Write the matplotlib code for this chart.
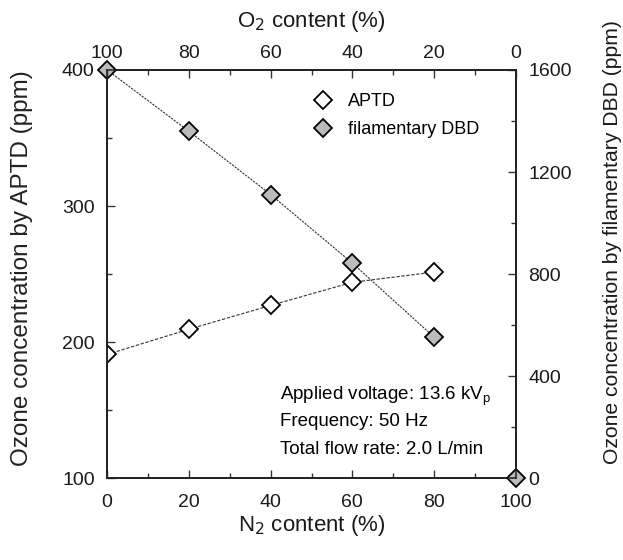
import matplotlib
matplotlib.use("Agg")
import matplotlib.pyplot as plt
from matplotlib.ticker import MultipleLocator

plt.rcParams['font.family'] = ['Liberation Sans', 'DejaVu Sans']

n2_aptd = [0, 20, 40, 60, 80]
aptd_ppm = [191, 209.5, 227, 244, 251.5]
n2_dbd = [0, 20, 40, 60, 80, 100]
dbd_ppm = [1600, 1360, 1112, 843, 553, 0]

fig = plt.figure(figsize=(6.23, 5.60), dpi=100)
ax = fig.add_axes([0.172, 0.146, 0.656, 0.729])
ax2 = ax.twinx()
ax3 = ax.twiny()

ax.set_xlim(0, 100)
ax.set_ylim(100, 400)
ax2.set_ylim(0, 1600)
ax3.set_xlim(0, 100)

fs = 14
ax.plot(n2_aptd, aptd_ppm, linestyle=(0, (3, 1.5)), color='#333333', lw=0.8, zorder=2)
ax.plot(n2_aptd, aptd_ppm, linestyle='none', marker='D', ms=9, mfc='white', mec='black', mew=1.3, zorder=3)
ax2.plot(n2_dbd[:-1], dbd_ppm[:-1], linestyle=(0, (2, 1)), color='#333333', lw=0.8, zorder=2)
ax2.plot(n2_dbd, dbd_ppm, linestyle='none', marker='D', ms=9, mfc='#bbbbbb', mec='black', mew=1.3, zorder=3, clip_on=False)

h1, = ax.plot([], [], linestyle='none', marker='D', ms=9, mfc='white', mec='black', mew=1.3)
h2, = ax.plot([], [], linestyle='none', marker='D', ms=9, mfc='#bbbbbb', mec='black', mew=1.3)
ax.legend([h1, h2], ['APTD', 'filamentary DBD'], loc='upper left', bbox_to_anchor=(0.47, 0.975),
          frameon=False, fontsize=13, handletextpad=0.8, labelspacing=0.62, handlelength=1.2,
          borderaxespad=0.3)

ax.set_xticks([0, 20, 40, 60, 80, 100])
ax.xaxis.set_minor_locator(MultipleLocator(10))
ax.set_yticks([100, 200, 300, 400])
ax.yaxis.set_minor_locator(MultipleLocator(50))
ax2.set_yticks([0, 400, 800, 1200, 1600])
ax2.yaxis.set_minor_locator(MultipleLocator(200))
ax3.set_xticks([0, 20, 40, 60, 80, 100])
ax3.set_xticklabels(['100', '80', '60', '40', '20', '0'])
ax3.xaxis.set_minor_locator(MultipleLocator(10))

for a in (ax, ax2, ax3):
    a.tick_params(which='both', direction='in', labelsize=fs, width=1.0, color='#333333',
                  labelcolor='#1a1a1a')
    a.tick_params(which='major', length=6, pad=9)
    a.tick_params(which='minor', length=3.5)
    for s in a.spines.values():
        s.set_linewidth(1.1)
        s.set_color('#222222')
ax.tick_params(axis='x', which='major', pad=11)
ax3.tick_params(which='major', pad=6)

ax.set_xlabel('N$_2$ content (%)', fontsize=16, color='#1a1a1a')
ax.xaxis.set_label_coords(0.5, -0.086)
ax3.set_xlabel('O$_2$ content (%)', fontsize=16, color='#1a1a1a')
ax3.xaxis.set_label_coords(0.5, 1.105)
ax.set_ylabel('Ozone concentration by APTD (ppm)', fontsize=17.5, color='#222222')
ax.yaxis.set_label_coords(-0.181, 0.515)
ax2.set_ylabel('Ozone concentration by filamentary DBD (ppm)', fontsize=15.2, color='#1a1a1a')
ax2.yaxis.set_label_coords(1.213, 0.578)

tfs = 13.5
ax.text(0.423, 0.200, 'Applied voltage: 13.6 kV$_\\mathregular{p}$', transform=ax.transAxes, fontsize=tfs, va='center')
ax.text(0.423, 0.139, 'Frequency: 50 Hz', transform=ax.transAxes, fontsize=tfs, va='center')
ax.text(0.423, 0.071, 'Total flow rate: 2.0 L/min', transform=ax.transAxes, fontsize=tfs, va='center')

fig.savefig('out.png', dpi=100)
